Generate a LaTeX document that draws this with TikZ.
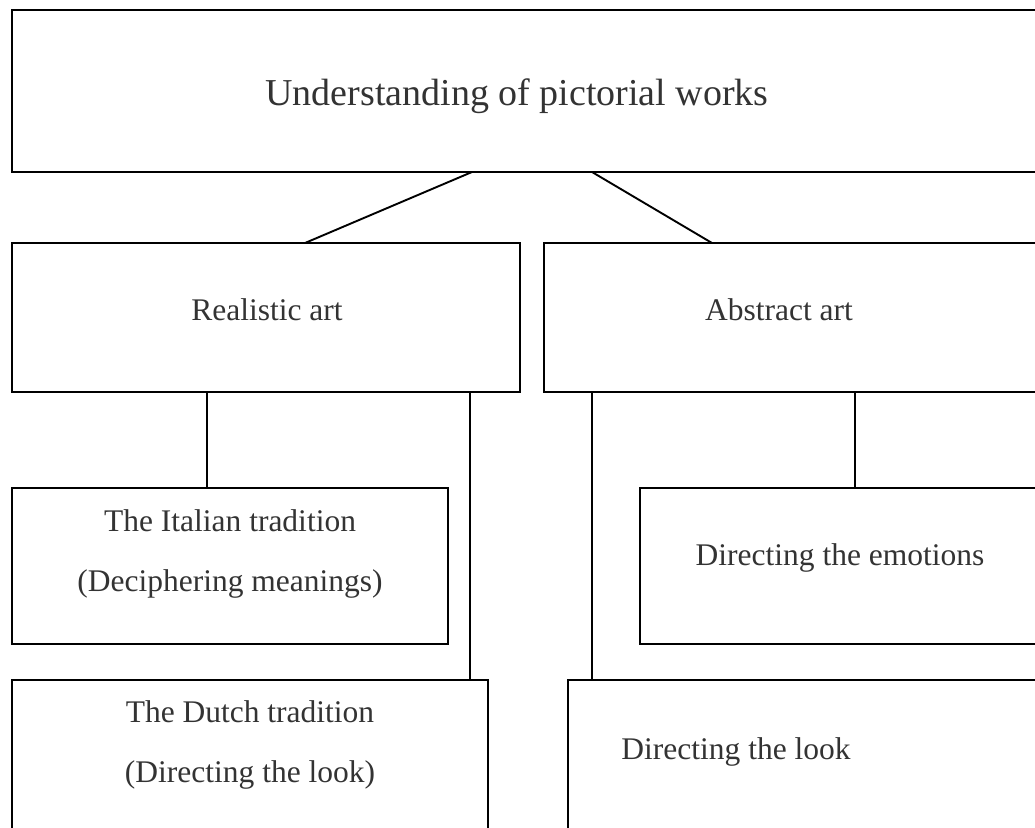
\documentclass[tikz,border=0pt]{standalone}
\usepackage{fontspec}
\setmainfont{Liberation Serif}
\tikzset{
  title_font/.style = {font=\fontsize{38}{46}\selectfont},
  block_font/.style = {font=\fontsize{31.5}{60}\selectfont},
  line_size/.style = {line width=1.9pt}
}
\tikzset{
  block/.style = {draw, line_size, inner sep=0, outer sep=0, anchor=north west},
  caption/.style = {block_font, align=center, text=black!80, inner sep=0},
  lowered/.style = {yshift=-3pt},
  link/.style = {line_size}
}

\begin{document}
\begin{tikzpicture}[x=1pt, y=-1pt]
        \useasboundingbox (0,0) rectangle (1035,827);
        \clip (0,0) rectangle (1035,827);

        % Boxes
        \node[block, minimum width=1040, minimum height=162] at (12,10) (top) {};
        \node[block, minimum width=508, minimum height=149] at (12,243) (real) {};
        \node[block, minimum width=500, minimum height=149] at (544,243) (abs) {};
        \node[block, minimum width=436, minimum height=156] at (12,488) (ital) {};
        \node[block, minimum width=400, minimum height=156] at (640,488) (emo) {};
        \node[block, minimum width=476, minimum height=200] at (12,680) (dutch) {};
        \node[block, minimum width=480, minimum height=200] at (568,680) (look) {};

        % Texts
        \node[caption, title_font, lowered] at (517,93) (top_t) {Understanding of pictorial works};
        \node[caption] at (267,310) (real_t) {Realistic art};
        \node[caption] at (779,310) (abs_t) {Abstract art};
        \node[caption, lowered] at (230,551) (ital_t) {
            The Italian tradition \\
            (Deciphering meanings)
            };
        \node[caption, lowered] at (840,555) (emo_t) {Directing the emotions};
        \node[caption, lowered] at (250,742) (dutch_t) {
            The Dutch tradition \\
            (Directing the look)
            };
        \node[caption, lowered] at (736,749) (look_t) {Directing the look};

        % Lines
        \coordinate (r_1) at ([xshift=195]real.south west);
        \coordinate (r_2) at ([xshift=458]real.south west);
        \coordinate (a_1) at ([xshift=48]abs.south west);
        \coordinate (a_2) at ([xshift=311]abs.south west);

        \draw[link] ([xshift=460]top.south west)--([xshift=293]real.north west);
        \draw[link] ([xshift=580]top.south west)--([xshift=168]abs.north west);

        \draw[link] (r_1)--(r_1 |- ital.north);
        \draw[link] (r_2)--(r_2 |- dutch.north);
        \draw[link] (a_1)--(a_1 |- look.north);
        \draw[link] (a_2)--(a_2 |- emo.north);
\end{tikzpicture}
\end{document}
